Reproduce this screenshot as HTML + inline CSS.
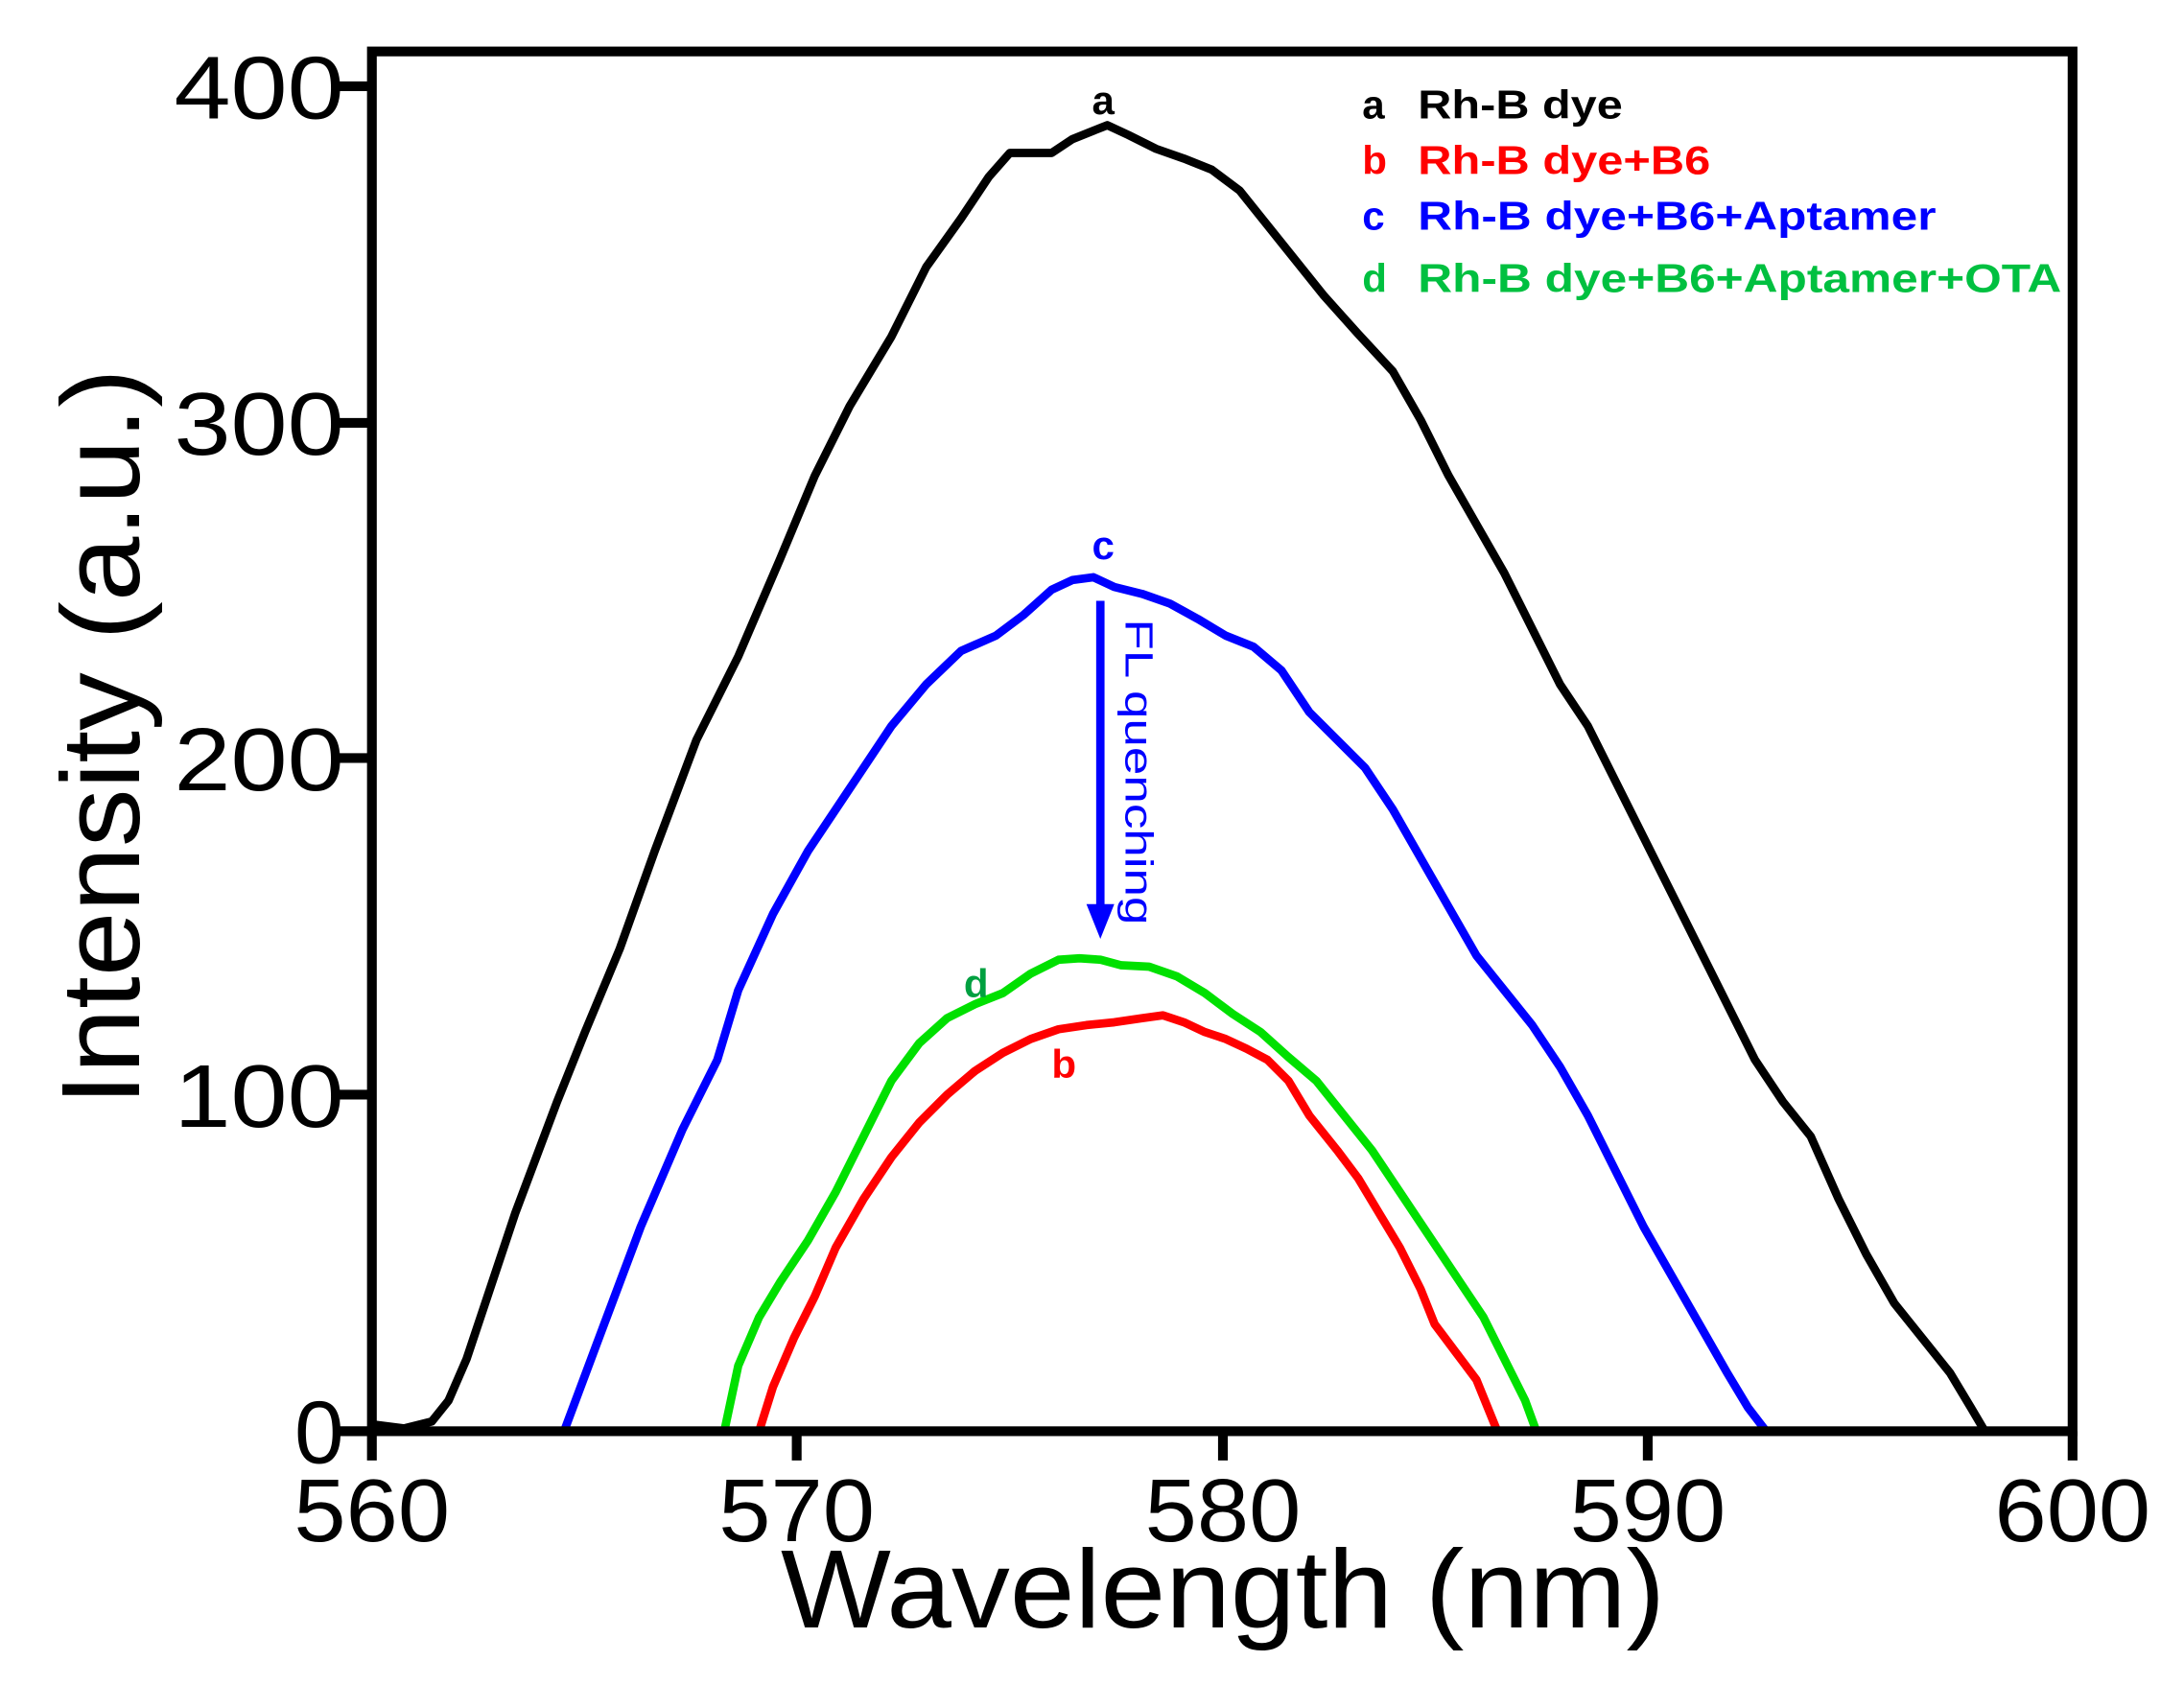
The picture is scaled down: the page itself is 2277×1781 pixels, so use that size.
<!DOCTYPE html>
<html><head><meta charset="utf-8"><style>html,body{margin:0;padding:0;background:#fff;}svg{display:block;}</style></head>
<body>
<svg width="2277" height="1781" viewBox="0 0 1568 1228" preserveAspectRatio="none" xmlns="http://www.w3.org/2000/svg" font-family="Liberation Sans, Arial, sans-serif">
<g fill="none" stroke-linejoin="round" stroke-linecap="round" stroke-width="6">
<polyline stroke="#000" points="267,1024 290,1027 310,1022 322,1007 335,977 350,932 370,872 400,792 420,742 445,682 470,612 500,532 530,472 560,402 585,342 610,292 640,242 665,192 690,157 710,127 725,110 740,110 755,110 770,100 785,94 795,90 810,97 830,107 850,114 870,122 890,137 910,162 930,187 950,212 975,240 1000,267 1020,302 1040,342 1060,377 1080,412 1100,452 1120,492 1140,522 1160,562 1180,602 1200,642 1220,682 1240,722 1260,762 1280,792 1300,817 1320,862 1340,902 1360,937 1380,962 1400,987 1415,1012 1425,1029"/>
<polyline stroke="#0000ff" points="405,1029 430,962 460,882 490,812 515,762 530,712 555,657 580,612 610,567 640,522 665,492 690,468 715,457 735,442 755,424 770,417 785,415 800,422 820,427 840,434 860,445 880,457 900,465 920,482 940,512 960,532 980,552 1000,582 1020,617 1040,652 1060,687 1080,712 1100,737 1120,767 1140,802 1160,842 1180,882 1200,917 1220,952 1240,987 1255,1012 1268,1029"/>
<polyline stroke="#00e000" points="520,1029 530,982 545,947 560,922 580,892 600,857 620,817 640,777 660,750 680,732 700,722 720,714 740,700 760,690 775,689 790,690 805,694 825,695 845,702 865,714 885,729 905,742 925,760 945,777 965,802 985,827 1005,857 1025,887 1045,917 1065,947 1080,977 1095,1007 1103,1029"/>
<polyline stroke="#ff0000" points="545,1029 555,997 570,962 585,932 600,897 620,862 640,832 660,807 680,787 700,770 720,757 740,747 760,740 780,737 800,735 820,732 835,730 850,735 865,742 880,747 895,754 910,762 925,777 940,802 960,827 975,847 990,872 1005,897 1020,927 1030,952 1045,972 1060,992 1075,1029"/>
</g>
<g stroke="#000" stroke-width="7" fill="none">
<rect x="267" y="37" width="1221" height="992"/>
<path d="M243,62H267M243,304H267M243,545H267M243,787H267M243,1029H267M267,1029V1050M572,1029V1050M878,1029V1050M1183,1029V1050M1488,1029V1050"/>
</g>
<g font-size="64" fill="#000" text-anchor="end" lengthAdjust="spacingAndGlyphs">
<text x="247" y="85" textLength="122" lengthAdjust="spacingAndGlyphs">400</text><text x="247" y="327" textLength="122" lengthAdjust="spacingAndGlyphs">300</text><text x="247" y="568" textLength="122" lengthAdjust="spacingAndGlyphs">200</text><text x="247" y="810" textLength="122" lengthAdjust="spacingAndGlyphs">100</text><text x="247" y="1052">0</text>
</g>
<g font-size="64" fill="#000" text-anchor="middle">
<text x="267" y="1108" textLength="112" lengthAdjust="spacingAndGlyphs">560</text><text x="572" y="1108" textLength="112" lengthAdjust="spacingAndGlyphs">570</text><text x="878" y="1108" textLength="112" lengthAdjust="spacingAndGlyphs">580</text><text x="1183" y="1108" textLength="112" lengthAdjust="spacingAndGlyphs">590</text><text x="1488" y="1108" textLength="112" lengthAdjust="spacingAndGlyphs">600</text>
</g>
<text x="878" y="1170" font-size="80" text-anchor="middle" textLength="635" lengthAdjust="spacingAndGlyphs">Wavelength (nm)</text>
<text transform="translate(100,530) rotate(-90)" font-size="80" text-anchor="middle" textLength="530" lengthAdjust="spacingAndGlyphs">Intensity (a.u.)</text>
<g font-size="29" font-weight="bold">
<text x="978" y="85" fill="#000">a</text><text x="1018" y="85" fill="#000" textLength="147" lengthAdjust="spacingAndGlyphs">Rh-B  dye</text>
<text x="978" y="125" fill="#ff0000">b</text><text x="1018" y="125" fill="#ff0000" textLength="210" lengthAdjust="spacingAndGlyphs">Rh-B  dye+B6</text>
<text x="978" y="165" fill="#0000ff">c</text><text x="1018" y="165" fill="#0000ff" textLength="372" lengthAdjust="spacingAndGlyphs">Rh-B  dye+B6+Aptamer</text>
<text x="978" y="210" fill="#00c040">d</text><text x="1018" y="210" fill="#00c040" textLength="462" lengthAdjust="spacingAndGlyphs">Rh-B  dye+B6+Aptamer+OTA</text>
<text x="784" y="82" fill="#000">a</text>
<text x="784" y="402" fill="#0000ff">c</text>
<text x="692" y="717" fill="#00a040">d</text>
<text x="755" y="775" fill="#ff0000">b</text>
</g>
<line x1="790" y1="432" x2="790" y2="655" stroke="#0000ff" stroke-width="6"/>
<polygon points="780,650 800,650 790,675" fill="#0000ff"/>
<text transform="translate(808,445) rotate(90)" font-size="28" fill="#0000ff" textLength="220" lengthAdjust="spacingAndGlyphs">FL  quenching</text>
</svg>
</body></html>
